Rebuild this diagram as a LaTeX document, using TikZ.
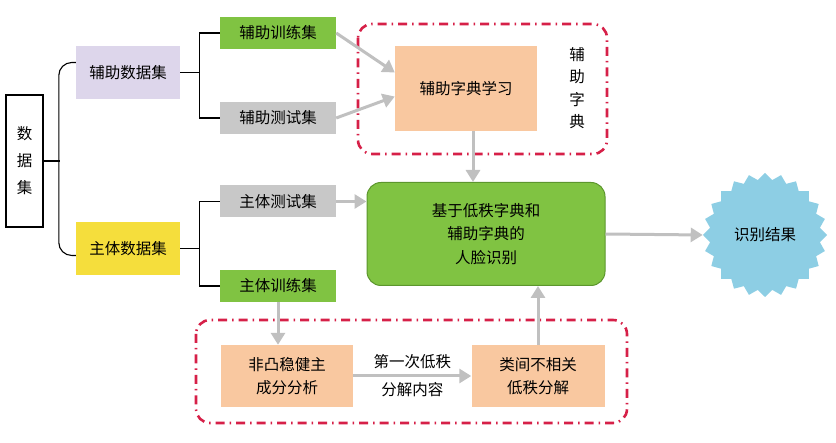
\documentclass[tikz,border=0pt]{standalone}
\usepackage{fontspec}
\newfontfamily\cjk{Noto Sans CJK SC}
\usepackage{tikz}
\usetikzlibrary{arrows.meta, positioning, shapes.geometric}
\usepackage{xcolor}
\definecolor{lavande}{RGB}{221,214,235}
\definecolor{jaune}{RGB}{245,222,60}
\definecolor{vert}{RGB}{128,195,66}
\definecolor{vertfonce}{RGB}{92,150,45}
\definecolor{gris}{RGB}{200,200,200}
\definecolor{orangeclair}{RGB}{249,200,160}
\definecolor{bleuclair}{RGB}{141,206,228}
\definecolor{flechegris}{RGB}{192,192,192}
\definecolor{cadrerouge}{RGB}{214,32,72}

\begin{document}
\begin{tikzpicture}[x=1pt, y=-1pt,
    every node/.style={font=\cjk\fontsize{15.5}{18}\selectfont, inner sep=0pt},
    boite/.style={minimum width=116pt, minimum height=32pt},
    fleche/.style={draw=flechegris, line width=3pt, -{Triangle[length=12pt,width=14pt]}},
    accolade/.style={draw=black, line width=1.1pt},
    cadre/.style={draw=cadrerouge, line width=2.6pt, rounded corners=14pt,
                  dash pattern=on 9pt off 5pt on 1.5pt off 5pt}]
        % Cadre
        \useasboundingbox (0,0) rectangle (836,443);

        % --- Jeux de données ---
        \node[draw, line width=1.3pt, fill=white, minimum width=37pt, minimum height=132pt,
              align=center, font=\cjk\fontsize{15.5}{27}\selectfont] (shuju) at (24.5,161) {数\\据\\集};
        \node[fill=lavande, minimum width=104pt, minimum height=53pt] (fuzhu) at (128,72.5) {辅助数据集};
        \node[fill=jaune, minimum width=104pt, minimum height=53pt] (zhuti) at (128,248.5) {主体数据集};

        \node[boite, fill=vert] (fzxl) at (278,33) {辅助训练集};
        \node[boite, fill=gris] (fzcs) at (278,118) {辅助测试集};
        \node[boite, fill=gris] (ztcs) at (278,201.5) {主体测试集};
        \node[boite, fill=vert] (ztxl) at (278,286) {主体训练集};

        % --- Accolades ---
        \draw[accolade] (shuju.east) -- ++(16,0);
        \draw[accolade, rounded corners=13pt] ([yshift=10pt]fuzhu.west) -- ++(-17,0) |- ([yshift=-7pt]zhuti.west);
        \draw[accolade] (fuzhu.east) -- ++(20,0);
        \draw[accolade] (fzxl.west) -- ++(-20,0) |- (fzcs.west);
        \draw[accolade] (zhuti.east) -- ++(20,0);
        \draw[accolade] (ztcs.west) -- ++(-20,0) |- (ztxl.west);

        % --- Dictionnaire auxiliaire ---
        \draw[cadre] (358,24) rectangle (607,154);
        \node[fill=orangeclair, minimum width=142pt, minimum height=85pt] (zdxx) at (466,88.5) {辅助字典学习};
        \node[align=center, font=\cjk\fontsize{15.5}{22.5}\selectfont] (zdlabel) at (577,88) {辅\\助\\字\\典};

        % --- Reconnaissance ---
        \node[fill=vert, draw=vertfonce, line width=1pt, rounded corners=14pt, minimum width=238pt,
              minimum height=103pt, align=center, font=\cjk\fontsize{15.5}{23.5}\selectfont] (shibie) at (486,234)
              {基于低秩字典和\\辅助字典的\\人脸识别};
        \node[star, star points=24, star point ratio=1.12, fill=bleuclair, minimum size=124pt] (jieguo) at (765,235) {识别结果};

        % --- Décomposition de rang faible ---
        \draw[cadre] (196,320) rectangle (627,423);
        \node[fill=orangeclair, minimum width=132pt, minimum height=62pt, align=center,
              font=\cjk\fontsize{15.5}{22.5}\selectfont] (feitu) at (287,376) {非凸稳健主\\成分分析};
        \node[fill=orangeclair, minimum width=133pt, minimum height=62pt, align=center,
              font=\cjk\fontsize{15.5}{22.5}\selectfont] (leijian) at (538,376) {类间不相关\\低秩分解};

        % --- Flèches ---
        \draw[fleche] (fzxl.east) -- ([yshift=16pt]zdxx.west);
        \draw[fleche] (fzcs.east) -- ([yshift=-8pt]zdxx.west);
        \draw[fleche] ([xshift=7pt]zdxx.south) -- ([xshift=7pt]zdxx.south |- shibie.north);
        \draw[fleche] (ztcs.east) -- (ztcs.east -| shibie.west);
        \draw[fleche] (shibie.east) -- (jieguo.west);
        \draw[fleche] (ztxl.south) -- (ztxl.south |- feitu.north);
        \draw[fleche] (feitu.east) -- node[above=6pt] (lbla) {第一次低秩} node[below=5pt] (lblb) {分解内容} (leijian.west);
        \draw[fleche] (leijian.north) -- (leijian.north |- shibie.south);
    \end{tikzpicture}
\end{document}
